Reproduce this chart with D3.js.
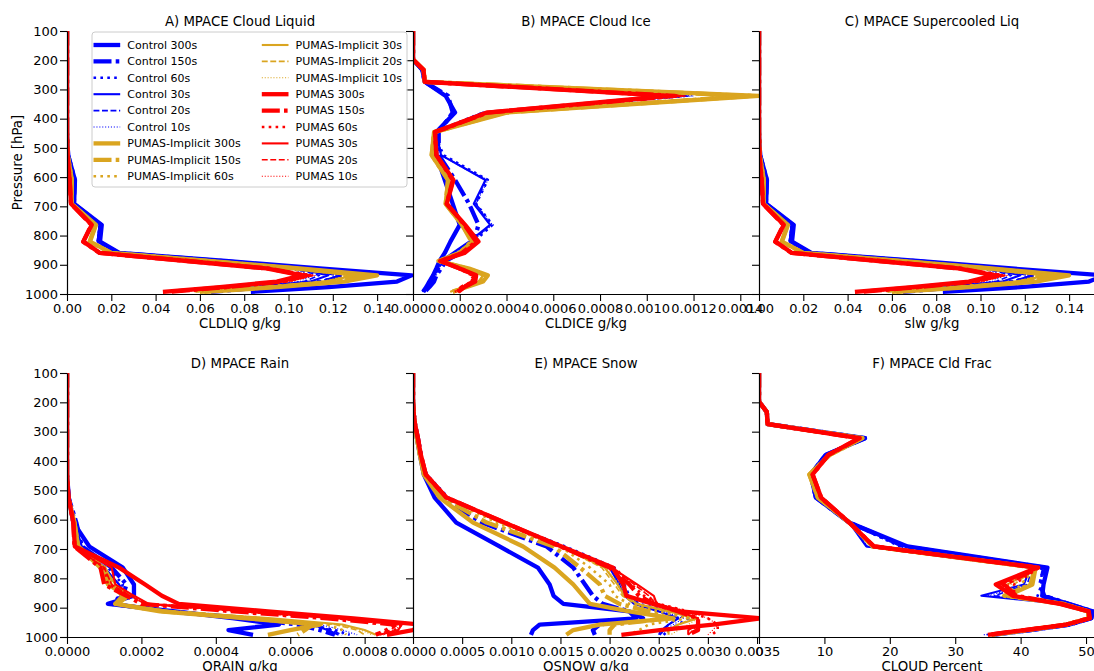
<!DOCTYPE html>
<html>
<head>
<meta charset="utf-8">
<script src="https://cdn.jsdelivr.net/npm/d3@7"></script>
<style>
  html, body { margin: 0; padding: 0; background: #fff; }
  svg { display: block; font-family: "DejaVu Sans", sans-serif; }
</style>
</head>
<body>
<svg id="chart" width="1094" height="671"></svg>
<script>
// Model mid-level pressures (hPa), top to bottom
const levels = [87.82,103.32,121.55,142.99,168.23,197.91,232.83,273.91,322.24,379.10,445.99,524.69,609.78,691.39,763.40,820.86,859.53,887.02,912.64,936.20,957.49,976.33,992.56];

const timesteps = ["300s","150s","60s","30s","20s","10s"];
const groupNames = ["Control","PUMAS-Implicit","PUMAS"];
const groupColors = ["#0000ff","#daa520","#ff0000"];

const pressureTicks = [100,200,300,400,500,600,700,800,900,1000];
const cldliqTicks = [0,0.02,0.04,0.06,0.08,0.10,0.12,0.14];
const cldiceTicks = [0,0.0002,0.0004,0.0006,0.0008,0.0010,0.0012,0.0014];
const slwTicks = [0,0.02,0.04,0.06,0.08,0.10,0.12,0.14];
const qrainTicks = [0,0.0002,0.0004,0.0006,0.0008];
const qsnowTicks = [0,0.0005,0.0010,0.0015,0.0020,0.0025,0.0030,0.0035];
const cloudTicks = [0,10,20,30,40,50];

// Cloud liquid (g/kg); rows = 300s,150s,60s,30s,20s,10s
const cldliqControl = [
  [0,0,0,0,0,0,0,0,0,0,0,.0005,.0036,.0032,.0157,.0149,.0236,.0716,.1140,.1556,.149,.118,.083],
  [0,0,0,0,0,0,0,0,0,0,0,.0005,.0035,.0031,.0152,.0143,.0231,.0695,.1085,.125,.116,.090,.065],
  [0,0,0,0,0,0,0,0,0,0,0,.0005,.0034,.0030,.0150,.0141,.0229,.0688,.1070,.124,.114,.088,.063],
  [0,0,0,0,0,0,0,0,0,0,0,.0004,.0033,.0029,.0147,.0138,.0226,.0675,.1040,.118,.110,.085,.061],
  [0,0,0,0,0,0,0,0,0,0,0,.0004,.0033,.0029,.0146,.0137,.0225,.0670,.1020,.114,.107,.083,.060],
  [0,0,0,0,0,0,0,0,0,0,0,.0004,.0032,.0028,.0145,.0136,.0224,.0665,.1000,.111,.105,.082,.060]
];
const cldliqImplicit = [
  [0,0,0,0,0,0,0,0,0,0,0,.0003,.0022,.0021,.0131,.0104,.0200,.0640,.1050,.140,.125,.095,.062],
  [0,0,0,0,0,0,0,0,0,0,0,.0003,.0022,.0020,.0129,.0102,.0198,.0630,.1030,.135,.121,.092,.060],
  [0,0,0,0,0,0,0,0,0,0,0,.0003,.0021,.0020,.0128,.0101,.0196,.0625,.1015,.132,.119,.090,.059],
  [0,0,0,0,0,0,0,0,0,0,0,.0003,.0021,.0019,.0127,.0100,.0195,.0620,.1000,.130,.117,.089,.058],
  [0,0,0,0,0,0,0,0,0,0,0,.0003,.0021,.0019,.0126,.0100,.0194,.0615,.0995,.128,.116,.088,.058],
  [0,0,0,0,0,0,0,0,0,0,0,.0003,.0020,.0019,.0126,.0099,.0194,.0612,.0990,.127,.115,.087,.057]
];
const cldliqPumas = [
  [0,0,0,0,0,0,0,0,0,0,0,.0002,.0012,.0018,.0112,.0074,.0149,.0540,.0900,.106,.0947,.069,.0433],
  [0,0,0,0,0,0,0,0,0,0,0,.0002,.0012,.0018,.0110,.0073,.0147,.0545,.0905,.108,.097,.072,.046],
  [0,0,0,0,0,0,0,0,0,0,0,.0002,.0012,.0017,.0109,.0072,.0146,.0550,.0910,.110,.099,.074,.048],
  [0,0,0,0,0,0,0,0,0,0,0,.0002,.0012,.0017,.0109,.0072,.0146,.0548,.0908,.109,.098,.073,.047],
  [0,0,0,0,0,0,0,0,0,0,0,.0002,.0011,.0017,.0108,.0071,.0145,.0552,.0912,.111,.100,.075,.049],
  [0,0,0,0,0,0,0,0,0,0,0,.0002,.0011,.0017,.0108,.0071,.0145,.0555,.0915,.112,.101,.076,.050]
];

// Cloud ice (g/kg)
const cldiceControl = [
  [0,0,0,0,0,0,.00004,.00005,.00014,.00018,.00010,.00010,.000136,.00017,.00020,.00016,.000136,.000114,.00010,.000086,.00007,.000057,.000043],
  [0,0,0,0,0,0,.00004,.00005,.00015,.00017,.00011,.00011,.00018,.00024,.00028,.00026,.00020,.00014,.00012,.00010,.00009,.00007,.00005],
  [0,0,0,0,0,0,.00004,.00005,.00115,.00030,.00009,.00013,.00032,.00027,.00034,.00026,.00019,.00013,.00011,.00009,.00008,.00006,.00005],
  [0,0,0,0,0,0,.00004,.00005,.00112,.00030,.00010,.00012,.00031,.00026,.00033,.00024,.00017,.00012,.00010,.00009,.00007,.00006,.00004],
  [0,0,0,0,0,0,.00004,.00005,.00118,.00031,.00010,.00012,.00031,.00027,.00033,.00025,.00018,.00013,.00011,.00009,.00008,.00006,.00005],
  [0,0,0,0,0,0,.00004,.00005,.00120,.00032,.00010,.00012,.00032,.00027,.00034,.00025,.00018,.00013,.00011,.00010,.00008,.00006,.00005]
];
const cldiceImplicit = [
  [0,0,0,0,0,0,.000045,.00005,.00148,.00040,.00009,.00008,.00015,.00014,.00021,.000256,.00020,.000109,.00024,.00032,.00030,.00023,.00017],
  [0,0,0,0,0,0,.000045,.00005,.00145,.00039,.00009,.00008,.00015,.00014,.00021,.00025,.00020,.00011,.00023,.00031,.00029,.00022,.00017],
  [0,0,0,0,0,0,.000045,.00005,.00142,.00038,.00009,.00008,.00015,.00014,.00021,.00025,.00020,.00011,.00023,.00031,.00029,.00022,.00016],
  [0,0,0,0,0,0,.000045,.00005,.00140,.00037,.00009,.00008,.00015,.00014,.00021,.00025,.00019,.00011,.00023,.00030,.00028,.00022,.00016],
  [0,0,0,0,0,0,.000045,.00005,.00138,.00037,.00009,.00008,.00015,.00014,.00021,.00025,.00019,.00011,.00022,.00030,.00028,.00021,.00016],
  [0,0,0,0,0,0,.000045,.00005,.00136,.00036,.00009,.00008,.00015,.00014,.00021,.00025,.00019,.00011,.00022,.00030,.00028,.00021,.00016]
];
const cldicePumas = [
  [0,0,0,0,0,0,.000045,.00005,.00109,.000316,.000094,.00010,.000173,.000144,.000223,.00028,.00022,.000116,.00020,.00027,.000266,.00022,.000194],
  [0,0,0,0,0,0,.000045,.00005,.00112,.00032,.000094,.00010,.00017,.000145,.00022,.00027,.00021,.00012,.00020,.00026,.00026,.00021,.00019],
  [0,0,0,0,0,0,.000045,.00005,.00115,.00033,.000095,.00010,.00017,.000145,.00022,.00027,.00021,.00012,.00019,.00026,.00025,.00021,.00018],
  [0,0,0,0,0,0,.000045,.00005,.00113,.00032,.000095,.00010,.00017,.000145,.00022,.00028,.00022,.00012,.00020,.00027,.00026,.00022,.00019],
  [0,0,0,0,0,0,.000045,.00005,.00116,.00033,.000095,.00010,.00017,.000145,.00022,.00027,.00021,.00012,.00019,.00026,.00025,.00021,.00018],
  [0,0,0,0,0,0,.000045,.00005,.00117,.00033,.000096,.00010,.00017,.000145,.00022,.00027,.00021,.00012,.00019,.00025,.00025,.00020,.00018]
];

// Supercooled liquid (g/kg): every liquid level in this column is below freezing
const slwControl = cldliqControl;
const slwImplicit = cldliqImplicit;
const slwPumas = cldliqPumas;

// Rain (g/kg)
const qrainControl = [
  [0,0,0,0,0,0,0,0,0,0,0,.000005,.000017,.00006,.00015,.00018,.00018,.00011,.00029,.00045,.00057,.000434,.0005],
  [0,0,0,0,0,0,0,0,0,0,0,.000004,.000025,.00004,.00012,.00016,.00015,.00012,.00027,.00048,.00062,.00068,.00072],
  [0,0,0,0,0,0,0,0,0,0,0,.000004,.000025,.00004,.00011,.00015,.00014,.00012,.00026,.00050,.00065,.00072,.00076],
  [0,0,0,0,0,0,0,0,0,0,0,.000004,.00002,.00004,.00010,.00014,.00016,.00013,.00028,.00052,.00066,.00070,.00073],
  [0,0,0,0,0,0,0,0,0,0,0,.000004,.00002,.00004,.00010,.00014,.00015,.00013,.00027,.00051,.00066,.00071,.00074],
  [0,0,0,0,0,0,0,0,0,0,0,.000004,.00002,.00004,.00010,.00014,.00015,.00013,.00027,.00052,.00068,.00074,.00078]
];
const qrainImplicit = [
  [0,0,0,0,0,0,0,0,0,0,0,.000003,.00002,.00003,.00009,.00011,.00016,.00013,.00025,.00048,.00068,.00060,.00054],
  [0,0,0,0,0,0,0,0,0,0,0,.000003,.00002,.00003,.00010,.00012,.00015,.00013,.00026,.00050,.00066,.00064,.00062],
  [0,0,0,0,0,0,0,0,0,0,0,.000003,.00002,.00003,.00010,.00012,.00016,.00014,.00027,.00052,.00070,.00074,.00075],
  [0,0,0,0,0,0,0,0,0,0,0,.000003,.00002,.00003,.00010,.00013,.00017,.00014,.00028,.00055,.00074,.00080,.00083],
  [0,0,0,0,0,0,0,0,0,0,0,.000003,.00002,.00003,.00010,.00012,.00016,.00014,.00027,.00053,.00072,.00078,.00080],
  [0,0,0,0,0,0,0,0,0,0,0,.000003,.00002,.00003,.00010,.00012,.00016,.00014,.00028,.00054,.00073,.00079,.00082]
];
const qrainPumas = [
  [0,0,0,0,0,0,0,0,0,0,0,.000004,.000017,.000021,.00014,.00021,.000255,.00030,.00054,.00077,.00095,.00093,.00086],
  [0,0,0,0,0,0,0,0,0,0,0,.000004,.000017,.00002,.00009,.00010,.00016,.00020,.00045,.00070,.00088,.00086,.00083],
  [0,0,0,0,0,0,0,0,0,0,0,.000004,.000017,.00002,.00010,.00011,.00017,.00021,.00047,.00072,.00090,.00088,.00085],
  [0,0,0,0,0,0,0,0,0,0,0,.000004,.000017,.00002,.00012,.00013,.00018,.00022,.00048,.00073,.00090,.00089,.00084],
  [0,0,0,0,0,0,0,0,0,0,0,.000004,.000017,.00002,.00010,.00012,.00017,.00021,.00046,.00071,.00089,.00087,.00083],
  [0,0,0,0,0,0,0,0,0,0,0,.000004,.000017,.00002,.00010,.00012,.00017,.00021,.00047,.00072,.00090,.00088,.00085]
];

// Snow (g/kg)
const qsnowControl = [
  [0,0,0,0,0,0,.000005,.00002,.00004,.00007,.00011,.00022,.00044,.00088,.00127,.00139,.00143,.00153,.00220,.00227,.00129,.00122,.00120],
  [0,0,0,0,0,0,.000005,.00002,.00005,.00008,.00012,.00030,.00070,.00136,.00163,.00175,.00183,.00193,.00220,.00234,.00190,.00183,.00185],
  [0,0,0,0,0,0,.000005,.00002,.00005,.00008,.00014,.00036,.00092,.00155,.00205,.00215,.00220,.00230,.00260,.00280,.00270,.00260,.00255],
  [0,0,0,0,0,0,.000005,.00002,.00005,.00008,.00014,.00035,.00090,.00152,.00200,.00210,.00215,.00225,.00250,.00270,.00260,.00255,.00251],
  [0,0,0,0,0,0,.000005,.00002,.00005,.00008,.00014,.00035,.00090,.00153,.00202,.00212,.00218,.00230,.00250,.00270,.00260,.00252,.00250],
  [0,0,0,0,0,0,.000005,.00002,.00005,.00008,.00014,.00035,.00091,.00154,.00204,.00214,.00220,.00230,.00255,.00275,.00265,.00255,.00252]
];
const qsnowImplicit = [
  [0,0,0,0,0,0,.000005,.00002,.00004,.00007,.00011,.00027,.00061,.00112,.00144,.00163,.00173,.00180,.00220,.00265,.00190,.00163,.00156],
  [0,0,0,0,0,0,.000005,.00002,.00004,.00007,.00012,.00030,.00075,.00143,.00170,.00190,.00195,.00210,.00240,.00260,.00205,.00200,.00200],
  [0,0,0,0,0,0,.000005,.00002,.00005,.00008,.00012,.00033,.00085,.00150,.00180,.00200,.00205,.00220,.00250,.00280,.00240,.00230,.00220],
  [0,0,0,0,0,0,.000005,.00002,.00005,.00008,.00013,.00035,.00090,.00150,.00195,.00208,.00215,.00228,.00260,.00290,.00270,.00260,.00260],
  [0,0,0,0,0,0,.000005,.00002,.00005,.00008,.00013,.00034,.00088,.00150,.00192,.00205,.00213,.00226,.00260,.00285,.00270,.00260,.00258],
  [0,0,0,0,0,0,.000005,.00002,.00005,.00008,.00013,.00035,.00090,.00151,.00196,.00210,.00216,.00229,.00262,.00290,.00280,.00270,.00262]
];
const qsnowPumas = [
  [0,0,0,0,0,0,.000005,.00002,.00005,.00008,.00013,.00034,.00093,.00151,.00203,.00214,.00217,.00244,.00272,.00355,.00305,.00251,.00212],
  [0,0,0,0,0,0,.000005,.00002,.00005,.00008,.00013,.00034,.00093,.00150,.00200,.00220,.00230,.00245,.00270,.00290,.00290,.00290,.00280],
  [0,0,0,0,0,0,.000005,.00002,.00005,.00008,.00013,.00035,.00094,.00152,.00205,.00222,.00235,.00250,.00280,.00300,.00310,.00310,.00304],
  [0,0,0,0,0,0,.000005,.00002,.00005,.00008,.00013,.00034,.00093,.00151,.00202,.00228,.00245,.00248,.00270,.00290,.00290,.00280,.00280],
  [0,0,0,0,0,0,.000005,.00002,.00005,.00008,.00013,.00034,.00093,.00151,.00203,.00225,.00240,.00247,.00270,.00290,.00290,.00285,.00280],
  [0,0,0,0,0,0,.000005,.00002,.00005,.00008,.00013,.00035,.00094,.00152,.00204,.00226,.00240,.00250,.00280,.00300,.00310,.00305,.00300]
];

// Cloud fraction (percent)
const cloudControl = [
  [0,0,0,0,0,0,1.2,1.3,16.2,10.2,7.9,8.7,13.8,22.7,44.1,43.5,43.3,47.3,51.0,50.8,47.5,41.5,35.8],
  [0,0,0,0,0,0,1.2,1.3,16.2,10.2,7.9,8.7,13.8,22.2,43.6,43.0,43.6,47.3,51.0,50.8,47.5,41.5,35.5],
  [0,0,0,0,0,0,1.2,1.3,16.3,10.1,7.8,8.6,13.7,21.6,43.2,43.2,42.6,47.0,50.8,50.6,47.3,41.3,35.2],
  [0,0,0,0,0,0,1.2,1.3,16.1,10.2,7.9,8.7,13.8,16.4,41.5,40.5,34.0,46.5,50.5,50.5,47.2,41.2,35.0],
  [0,0,0,0,0,0,1.2,1.3,16.1,10.2,7.9,8.7,13.8,16.5,41.8,41.0,36.0,46.6,50.5,50.5,47.2,41.2,34.8],
  [0,0,0,0,0,0,1.2,1.3,16.2,10.3,8.0,8.8,13.9,16.6,42.0,41.5,35.0,46.8,50.6,50.5,47.2,41.2,34.2]
];
const cloudImplicit = [
  [0,0,0,0,0,0,1.2,1.3,15.8,10.8,7.7,9.0,13.8,17.4,42.3,41.8,38.0,46.5,50.3,50.4,47.0,41.0,35.5],
  [0,0,0,0,0,0,1.2,1.3,15.8,10.8,7.7,9.0,13.8,17.4,42.2,41.5,37.5,46.5,50.3,50.4,47.0,41.0,35.5],
  [0,0,0,0,0,0,1.2,1.3,15.7,10.7,7.8,9.1,13.8,17.5,42.4,40.0,38.5,46.4,50.3,50.3,47.0,40.8,35.3],
  [0,0,0,0,0,0,1.2,1.3,15.6,10.7,7.9,9.2,13.8,17.5,42.5,38.0,38.5,46.3,50.3,50.3,47.0,40.8,35.2],
  [0,0,0,0,0,0,1.2,1.3,15.6,10.7,7.9,9.2,13.8,17.5,42.5,39.0,38.3,46.3,50.3,50.3,47.0,40.8,35.2],
  [0,0,0,0,0,0,1.2,1.3,15.6,10.7,7.9,9.2,13.8,17.5,42.5,38.5,38.8,46.3,50.3,50.3,47.0,40.8,35.2]
];
const cloudPumas = [
  [0,0,0,0,0,0,1.2,1.3,15.3,10.6,8.2,9.5,13.8,17.6,42.6,36.2,38.8,46.0,50.4,50.6,47.0,40.6,35.0],
  [0,0,0,0,0,0,1.2,1.3,15.4,10.6,8.2,9.5,13.8,17.6,42.7,37.5,39.3,46.2,50.4,50.5,47.0,40.6,35.0],
  [0,0,0,0,0,0,1.2,1.3,15.4,10.5,8.1,9.4,13.8,17.7,42.8,39.0,39.0,46.3,50.5,50.5,47.1,40.7,35.1],
  [0,0,0,0,0,0,1.2,1.3,15.3,10.6,8.2,9.5,13.8,17.6,42.6,36.5,38.8,46.0,50.4,50.5,47.0,40.6,35.0],
  [0,0,0,0,0,0,1.2,1.3,15.3,10.6,8.2,9.5,13.8,17.6,42.6,37.0,39.0,46.0,50.4,50.5,47.0,40.6,35.0],
  [0,0,0,0,0,0,1.2,1.3,15.3,10.6,8.2,9.5,13.8,17.6,42.6,38.0,39.2,46.1,50.4,50.5,47.0,40.6,35.0]
];

// Line style per timestep
const lineWidths = [4.3, 4.3, 2.6, 2.1, 1.6, 1.1];
const lineDashes = [null, "18,4.2,3.6,4.2", "2.6,4.3", null, "5.9,2.6", "1.1,1.8"];

const fmt2 = d3.format(".2f"), fmt4 = d3.format(".4f"), fmt0 = d3.format("d");

const panels = [
  {title:"A) MPACE Cloud Liquid",    label:"CLDLIQ g/kg",   series:[cldliqControl,cldliqImplicit,cldliqPumas], xMax:0.1562,  ticks:cldliqTicks, fmt:fmt2, row:0, col:0},
  {title:"B) MPACE Cloud Ice",       label:"CLDICE g/kg",   series:[cldiceControl,cldiceImplicit,cldicePumas], xMax:0.00148, ticks:cldiceTicks, fmt:fmt4, row:0, col:1},
  {title:"C) MPACE Supercooled Liq", label:"slw g/kg",      series:[slwControl,slwImplicit,slwPumas],          xMax:0.1562,  ticks:slwTicks,    fmt:fmt2, row:0, col:2},
  {title:"D) MPACE Rain",            label:"QRAIN g/kg",    series:[qrainControl,qrainImplicit,qrainPumas],    xMax:0.00093, ticks:qrainTicks,  fmt:fmt4, row:1, col:0},
  {title:"E) MPACE Snow",            label:"QSNOW g/kg",    series:[qsnowControl,qsnowImplicit,qsnowPumas],    xMax:0.00352, ticks:qsnowTicks,  fmt:fmt4, row:1, col:1},
  {title:"F) MPACE Cld Frac",        label:"CLOUD Percent", series:[cloudControl,cloudImplicit,cloudPumas],    xMax:52.9,    ticks:cloudTicks,  fmt:fmt0, row:1, col:2}
];

const panelW = 346;
const colX = [67, 413, 759];
const rowTop = [31, 373];
const rowBottom = [294, 637];

const svg = d3.select("#chart");
const defs = svg.append("defs");

panels.forEach((p, i) => {
  const x0 = colX[p.col], top = rowTop[p.row], bottom = rowBottom[p.row];
  const x = d3.scaleLinear().domain([0, p.xMax]).range([x0, x0 + panelW]);
  const y = d3.scaleLinear().domain([100, 1000]).range([top, bottom]);

  defs.append("clipPath").attr("id", "clip" + i)
    .append("rect").attr("x", x0).attr("y", top).attr("width", panelW).attr("height", bottom - top);

  const g = svg.append("g");
  const plot = g.append("g").attr("clip-path", `url(#clip${i})`);
  const line = d3.line().x(d => x(d[0])).y(d => y(d[1]));

  p.series.forEach((grp, gi) => {
    grp.forEach((vals, ti) => {
      plot.append("path")
        .datum(vals.map((v, k) => [v, levels[k]]))
        .attr("d", line)
        .attr("fill", "none")
        .attr("stroke", groupColors[gi])
        .attr("stroke-width", lineWidths[ti])
        .attr("stroke-dasharray", lineDashes[ti])
        .attr("stroke-linejoin", "round")
        .attr("stroke-linecap", "butt");
    });
  });

  // x axis
  const xa = g.append("g").attr("transform", `translate(0,${bottom})`)
    .call(d3.axisBottom(x).tickValues(p.ticks).tickFormat(p.fmt).tickSize(7).tickPadding(3).tickSizeOuter(0));
  // y axis
  const ya = g.append("g").attr("transform", `translate(${x0},0)`)
    .call(d3.axisLeft(y).tickValues(pressureTicks).tickSize(7).tickPadding(2).tickSizeOuter(0)
      .tickFormat(p.col === 0 ? d3.format("d") : () => ""));

  [xa, ya].forEach(a => {
    a.attr("font-family", "DejaVu Sans, sans-serif").attr("font-size", 13);
    a.selectAll("text").attr("fill", "#000");
    a.selectAll("line").attr("stroke", "#000").attr("stroke-width", 1.1);
    a.select(".domain").attr("stroke", "#000").attr("stroke-width", 1.2);
  });

  // panel title
  g.append("text").attr("x", x0 + panelW / 2).attr("y", top - 5)
    .attr("text-anchor", "middle").attr("font-size", 13.3).text(p.title);
  // x label
  g.append("text").attr("x", x0 + panelW / 2).attr("y", bottom + 34)
    .attr("text-anchor", "middle").attr("font-size", 13.3).text(p.label);
});

// y label
svg.append("text")
  .attr("transform", `translate(21.5,${(rowTop[0] + rowBottom[0]) / 2}) rotate(-90)`)
  .attr("text-anchor", "middle").attr("font-size", 13.3).text("Pressure [hPa]");

// legend in panel A
const legend = svg.append("g");
legend.append("rect").attr("x", 92).attr("y", 32).attr("width", 315).attr("height", 155)
  .attr("rx", 3).attr("fill", "#fff").attr("fill-opacity", 0.8).attr("stroke", "#cccccc").attr("stroke-width", 1);

const entries = [];
groupNames.forEach((gname, gi) => timesteps.forEach((ts, ti) => entries.push({name: gname + " " + ts, gi, ti})));
entries.forEach((e, i) => {
  const c = Math.floor(i / 9), r = i % 9;
  const lx = 93.5 + c * 168.3, ly = 45 + r * 16.4;
  legend.append("line").attr("x1", lx).attr("x2", lx + 26.7).attr("y1", ly).attr("y2", ly)
    .attr("stroke", groupColors[e.gi]).attr("stroke-width", lineWidths[e.ti])
    .attr("stroke-dasharray", lineDashes[e.ti]);
  legend.append("text").attr("x", lx + 33.8).attr("y", ly).attr("dy", "0.35em")
    .attr("font-size", 11).text(e.name);
});
</script>
</body>
</html>
